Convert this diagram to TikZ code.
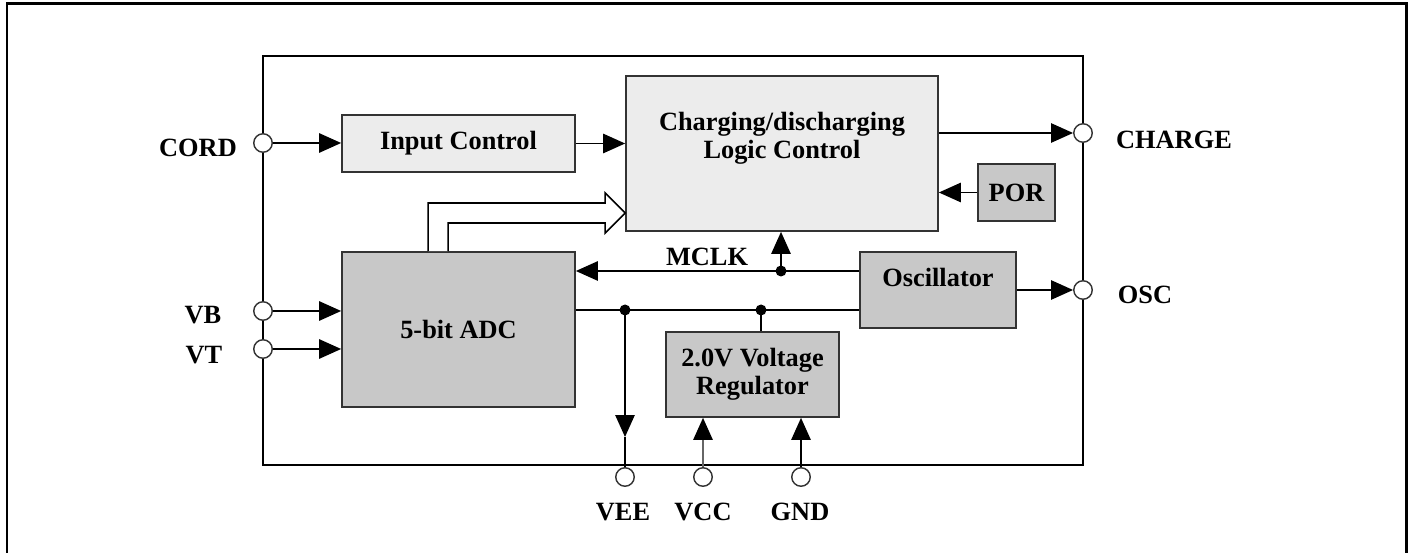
\documentclass[tikz,border=0pt]{standalone}
\usepackage{fontspec}
\setmainfont{Liberation Serif}
\usetikzlibrary{calc}
\usetikzlibrary{arrows.meta}
\definecolor{boxlight}{HTML}{ECECEC}
\definecolor{boxdark}{HTML}{C8C8C8}
\definecolor{edge}{HTML}{333333}
\tikzset{blk/.style={draw=edge, line width=1pt, align=center, inner sep=0pt, font=\fontsize{15}{17}\selectfont\bfseries}}
\tikzset{lbl/.style={font=\fontsize{15}{17}\selectfont\bfseries}}
\tikzset{pad/.style={circle, draw=edge, fill=white, line width=0.8pt, inner sep=0pt, minimum size=0.37cm}}
\tikzset{sig/.style={line width=0.9pt, -{Triangle[length=12.5pt,width=11pt,color=black]}}}
\tikzset{bus/.style={line width=0.9pt, fill=white, line join=miter}}
\begin{document}
\begin{tikzpicture}[x=0.02cm, y=-0.02cm]
\useasboundingbox (0,0) rectangle (1413,553);
\draw[line width=1.7pt] (7,553) -- (7,4) -- (1406,4) -- (1406,553);
\draw[line width=0.9pt] (263,56) rectangle (1083,465);
\node[blk, fill=boxlight, minimum width=4.66cm, minimum height=1.14cm] (inctl) at (458.5,143.5) {Input Control};
\node[blk, fill=boxlight, minimum width=6.24cm, minimum height=3.1cm] (chg) at (782,153.5) {Charging/discharging\\[-1pt]Logic Control\\[4pt]};
\node[blk, fill=boxdark, minimum width=1.54cm, minimum height=1.14cm] (por) at (1016.5,192.5) {POR};
\node[blk, fill=boxdark, minimum width=3.12cm, minimum height=1.52cm, label={[lbl, yshift=7pt]center:Oscillator}] (osc) at (938,290) {};
\node[blk, fill=boxdark, minimum width=4.66cm, minimum height=3.1cm] (adc) at (458.5,329.5) {5-bit ADC};
\node[blk, fill=boxdark, minimum width=3.46cm, minimum height=1.7cm] (reg) at (752.5,374.5) {2.0V Voltage\\[-1pt]Regulator};
\node[pad] (cordpad) at (263,143) {};
\node[pad] (vbpad) at (263,311) {};
\node[pad] (vtpad) at (263,349) {};
\node[pad] (chargepad) at (1083,133) {};
\node[pad] (oscpad) at (1083,290) {};
\node[pad] (veepad) at (625,477) {};
\node[pad] (vccpad) at (703,477) {};
\node[pad] (gndpad) at (801,477) {};
\node[lbl] (cordlbl) at (198,148) {CORD};
\node[lbl] (vblbl) at (203,315) {VB};
\node[lbl] (vtlbl) at (204,355) {VT};
\node[lbl] (chargelbl) at (1174,140) {CHARGE};
\node[lbl] (osclbl) at (1145,295) {OSC};
\node[lbl] (veelbl) at (623,512) {VEE};
\node[lbl] (vcclbl) at (703,512) {VCC};
\node[lbl] (gndlbl) at (800,512) {GND};
\node[lbl] (mclklbl) at (707,257) {MCLK};
\coordinate (mclk) at (781,271);
\coordinate (j1) at (625,310);
\coordinate (j2) at (761,310);
\coordinate (veetip) at (625,437);
\draw[sig] (cordpad.east) -- (cordpad.east -| inctl.west);
\draw[sig] (inctl.east) -- (inctl.east -| chg.west);
\draw[sig] (chargepad -| chg.east) -- (chargepad.west);
\draw[sig] (por.west) -- (por.west -| chg.east);
\draw[sig] (osc.east) -- (oscpad.west);
\draw[sig] (vbpad.east) -- (vbpad.east -| adc.west);
\draw[sig] (vtpad.east) -- (vtpad.east -| adc.west);
\draw[sig] (mclk -| osc.west) -- (mclk -| adc.east);
\draw[sig] (mclk) -- (mclk |- chg.south);
\draw[line width=0.9pt] (j1 -| adc.east) -- (j1 -| osc.west);
\draw[sig] (j1) -- (veetip);
\draw[line width=0.9pt] (veetip) -- (veepad.north);
\draw[line width=0.9pt] (j2) -- (j2 |- reg.north);
\draw[sig, draw=black!60] (vccpad.north) -- (vccpad |- reg.south);
\draw[sig] (gndpad.north) -- (gndpad |- reg.south);
\fill (mclk) circle (0.11cm) (j1) circle (0.11cm) (j2) circle (0.11cm);
\coordinate (b1) at ($(adc.north west)+(87,0)$);
\coordinate (b2) at ($(adc.north west)+(107,0)$);
\coordinate (bt) at (chg.west |- 0,213);
\draw[bus] (b1) |- ($(bt)+(-20,-10)$) -- ++(0,-10) -- (bt) -- ($(bt)+(-20,20)$) -- ++(0,-10) -| (b2);
\end{tikzpicture}
\end{document}
